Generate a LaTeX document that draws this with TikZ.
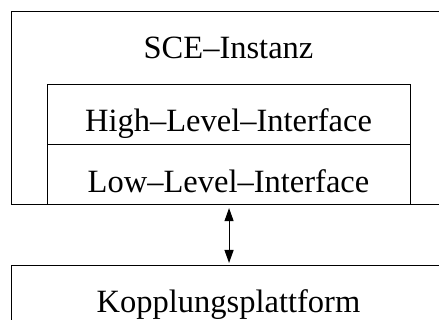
\documentclass[tikz,border=0pt]{standalone}
\usepackage{fontspec}
\setmainfont{Liberation Serif}
\usetikzlibrary{arrows.meta}
\begin{document}
\begin{tikzpicture}[x=0.5pt,y=-0.5pt,
  box/.style={draw=black,line width=0.55pt,rectangle,inner sep=0pt,anchor=north west},
  lbl/.style={anchor=base,inner sep=0pt,font=\fontsize{16.25}{19}\selectfont}]
\useasboundingbox (0,0) rectangle (439,320);
\clip (0,0) rectangle (439,320);
\node[box,minimum width=219.5pt,minimum height=96.5pt] (sce) at (11,11) {};
\node[box,minimum width=181.5pt,minimum height=30pt] (high) at (47,84) {};
\node[box,minimum width=181.5pt,minimum height=30pt] (low) at (47,144) {};
\node[box,minimum width=219.5pt,minimum height=40pt] (kop) at (11,265) {};
\node[lbl] (tsce) at (228.5,59) {SCE–Instanz};
\node[lbl] (thigh) at (228.5,132) {High–Level–Interface};
\node[lbl] (tlow) at (228.5,192.5) {Low–Level–Interface};
\node[lbl] (tkop) at (228.5,313) {Kopplungsplattform};
\draw[line width=0.55pt,{Triangle[length=6.5pt,width=4.5pt]}-{Triangle[length=6.5pt,width=4.5pt]},shorten <=1.5pt,shorten >=1pt]
  (low.south) -- (low.south |- kop.north);
\end{tikzpicture}
\end{document}
